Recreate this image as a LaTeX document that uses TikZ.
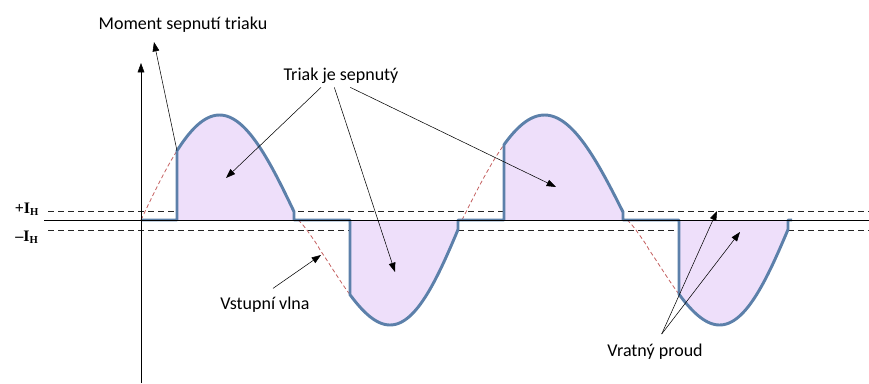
\documentclass[tikz,border=0pt]{standalone}
\usepackage{fontspec}
\setmainfont{Carlito}
\newfontfamily\timesfont{Liberation Serif}
\usetikzlibrary{arrows.meta,positioning}
\definecolor{wavblue}{RGB}{92,128,170}
\definecolor{humpfill}{RGB}{238,223,250}
\definecolor{inred}{RGB}{196,96,96}

\tikzset{
  lbl/.style={font=\fontsize{13.5}{16}\selectfont, inner sep=1.5pt},
  ihlbl/.style={font=\timesfont\bfseries\fontsize{12}{14}\selectfont, inner sep=0pt},
  arr/.style={-{Triangle[length=7pt,width=5pt]}, thin},
  hold/.style={dash pattern=on 4.5pt off 3pt, black!85},
  output/.style={wavblue, line width=2.2pt, line join=round},
  inwave/.style={inred, semithick, dash pattern=on 3pt off 2pt}
}

\begin{document}
\begin{tikzpicture}[x=0.75pt, y=-0.75pt]
\useasboundingbox (0,0) rectangle (869,383);

% holding current levels
\draw[hold] (48,211) -- (869,211);
\draw[hold] (48,230) -- (869,230);
\node[ihlbl] (ihp) at (27,209) {+I\textsubscript{H}};
\node[ihlbl] (ihn) at (27,237) {–I\textsubscript{H}};

% half waves: zero crossing, next crossing, firing point, sign, skew
\foreach \ca/\cb/\fx/\sg/\pw [count=\i] in {141/298/177/1/1, 298/462/350/-1/1.2, 462/627/504/1/1, 627/792/679/-1/1.2}{
  \pgfmathsetmacro{\fy}{220-\sg*105*sin(180*((\fx-\ca)/(\cb-\ca))^\pw)}
  \coordinate (fire\i) at (\fx,\fy);
  \fill[humpfill] (\fx,220) -- (fire\i)
    -- plot[domain=\fx:\cb-4, samples=50] (\x,{220-\sg*105*sin(180*((\x-\ca)/(\cb-\ca))^\pw)})
    -- (\cb-4,220) -- cycle;
  \draw[inwave] (\ca,220)
    -- plot[domain=\ca+0.5:\fx, samples=20] (\x,{220-\sg*105*sin(180*((\x-\ca)/(\cb-\ca))^\pw)});
  \draw[output] (\ca,220) -- (\fx,220) -- (fire\i)
    -- plot[domain=\fx:\cb-4, samples=50] (\x,{220-\sg*105*sin(180*((\x-\ca)/(\cb-\ca))^\pw)})
    -- (\cb-4,220) -- (\cb,220);
}

% axes
\draw (44,220) -- (869,220);
\draw[arr] (141,383) -- (141,63);

% labels
\node[lbl] (moment) at (183,25) {Moment sepnutí triaku};
\node[lbl] (sepnuty) at (341,76) {Triak je sepnutý};
\node[lbl] (vlna) at (265,305) {Vstupní vlna};
\node[lbl] (proud) at (655,352) {Vratný proud};

\coordinate (mtip) at (154,42);
\coordinate (tipA) at (226,178);
\coordinate (tipB) at (395,272);
\coordinate (tipC) at (556,187);
\coordinate (vtip) at (321,255);
\coordinate (rtipA) at (717,211);
\coordinate (rtipB) at (740,232);

\draw[arr] (fire1) -- (mtip);
\draw[arr] ([xshift=-15pt,yshift=-1pt]sepnuty.south) -- (tipA);
\draw[arr] ([xshift=-5pt,yshift=-1pt]sepnuty.south) -- (tipB);
\draw[arr] ([xshift=7pt,yshift=-1pt]sepnuty.south) -- (tipC);
\draw[arr] ([xshift=6pt,yshift=5pt]vlna.north) -- (vtip);
\draw[arr] ([xshift=5pt,yshift=6pt]proud.north) -- (rtipA);
\draw[arr] ([xshift=5pt,yshift=6pt]proud.north) -- (rtipB);
\end{tikzpicture}
\end{document}
